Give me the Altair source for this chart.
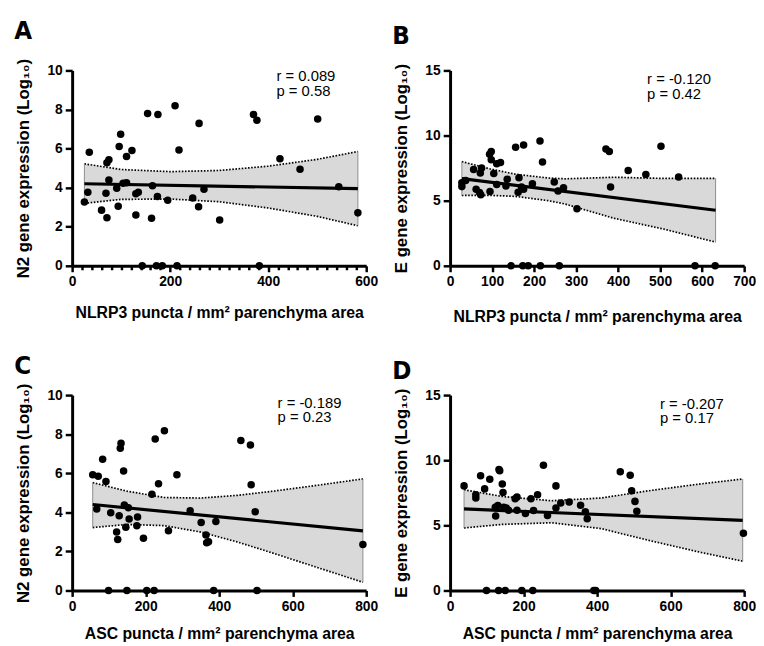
import altair as alt
import pandas as pd

# ---------------- Panel A: N2 vs NLRP3 ----------------
A_x = [25, 32, 35, 60, 69, 71, 71, 75, 75, 91, 94, 96, 99, 104, 111, 111, 122, 130, 135, 130,
       143, 154, 162, 164, 172, 174, 175, 184, 195, 210, 214, 218, 246, 258, 259, 269, 301,
       370, 377, 382, 424, 465, 501, 544, 583]
A_y = [3.27, 3.77, 5.81, 2.85, 3.72, 2.46, 5.28, 5.43, 4.39, 3.97, 3.05, 6.11, 6.73, 4.22, 4.25,
       5.59, 5.90, 3.69, 3.77, 2.60, 0, 7.79, 2.43, 4.10, 0, 3.55, 7.74, 0, 3.35, 8.19, 0, 5.93,
       3.47, 3.02, 7.29, 3.92, 2.35, 7.74, 7.45, 0, 5.48, 4.94, 7.52, 4.05, 2.71]
A_line_x = [25, 583]
A_line_y = [4.20, 3.95]
A_band_x = [25, 100, 200, 300, 400, 500, 583]
A_band_lo = [3.20, 3.40, 3.42, 3.28, 2.96, 2.53, 2.05]
A_band_hi = [5.22, 4.93, 4.82, 4.88, 5.10, 5.45, 5.85]
A_stats = ["r = 0.089", "p = 0.58"]

# ---------------- Panel B: E vs NLRP3 ----------------
B_x = [28, 28, 37, 56, 62, 70, 72, 75, 73, 94, 98, 98, 95, 104, 111, 120, 111, 133, 136, 145,
       156, 162, 164, 170, 173, 175, 186, 196, 175, 214, 215, 220, 248, 257, 260, 270, 302,
       371, 379, 382, 424, 466, 502, 544, 583, 631]
B_y = [6.38, 6.08, 6.55, 7.39, 5.87, 5.62, 7.13, 7.51, 5.45, 8.57, 8.77, 8.14, 5.70, 7.08, 7.84,
       7.94, 6.25, 6.13, 6.65, 0, 9.10, 5.65, 6.76, 6.05, 0, 9.28, 0, 6.30, 5.87, 9.58, 0, 7.97,
       6.43, 5.75, 0, 6.00, 4.39, 8.97, 8.77, 6.05, 7.31, 7.01, 9.18, 6.81, 0, 0]
B_line_x = [28, 632]
B_line_y = [6.69, 4.27]
B_band_x = [28, 94, 156, 234, 273, 390, 507, 632]
B_band_lo = [5.40, 5.41, 5.33, 5.00, 4.75, 3.65, 2.83, 1.82]
B_band_hi = [8.00, 7.45, 7.03, 6.74, 6.68, 6.80, 6.71, 6.72]
B_stats = ["r = -0.120", "p = 0.42"]

# ---------------- Panel C: N2 vs ASC ----------------
C_x = [56, 71, 67, 83, 92, 99, 105, 121, 124, 128, 131, 133, 140, 142, 146, 149, 153, 155, 176,
       178, 194, 203, 217, 223, 226, 235, 251, 262, 285, 321, 351, 364, 366, 371, 391, 385, 459,
       485, 487, 498, 503, 791]
C_y = [5.92, 5.85, 4.17, 6.72, 5.58, 0, 3.98, 2.99, 2.61, 3.82, 7.28, 7.53, 6.12, 4.37, 3.24, 0,
       4.24, 3.66, 3.31, 3.76, 2.67, 0, 4.92, 0, 7.75, 5.46, 8.17, 3.06, 5.92, 4.08, 3.48, 2.84,
       2.44, 2.49, 3.53, 0, 7.68, 7.45, 5.41, 4.03, 0, 2.35]
C_line_x = [56, 791]
C_line_y = [4.40, 3.05]
C_band_x = [56, 150, 250, 350, 450, 550, 650, 791]
C_band_lo = [3.22, 3.38, 3.32, 2.99, 2.48, 1.89, 1.28, 0.42]
C_band_hi = [5.52, 5.08, 4.76, 4.73, 4.87, 5.09, 5.34, 5.71]
C_stats = ["r = -0.189", "p = 0.23"]

# ---------------- Panel D: E vs ASC ----------------
D_x = [38, 70, 70, 83, 94, 99, 108, 123, 124, 130, 133, 135, 132, 142, 144, 146, 150, 153, 159,
       177, 182, 182, 195, 205, 220, 225, 227, 238, 254, 265, 288, 288, 301, 324, 355, 368, 373,
       391, 396, 463, 490, 494, 503, 508, 798]
D_y = [8.03, 7.35, 7.10, 8.81, 7.80, 0, 8.54, 6.39, 5.71, 6.52, 9.29, 9.19, 0, 8.18, 7.53, 6.39,
       0, 6.34, 6.16, 7.05, 7.17, 6.16, 0, 5.91, 7.05, 0, 6.14, 7.35, 9.62, 5.76, 8.03, 6.34, 6.72,
       6.79, 6.54, 6.04, 5.50, 0, 0, 9.12, 8.84, 7.65, 6.84, 6.09, 4.39]
D_line_x = [38, 796]
D_line_y = [6.26, 5.38]
D_band_x = [38, 141, 276, 411, 546, 681, 796]
D_band_lo = [4.80, 5.07, 5.20, 4.75, 3.81, 2.93, 2.25]
D_band_hi = [7.73, 7.22, 6.89, 7.10, 7.68, 8.18, 8.56]
D_stats = ["r = -0.207", "p = 0.17"]

FONT = "Liberation Sans, Arial, Helvetica, sans-serif"
LABEL_FONT = "Liberation Sans Narrow, DejaVu Sans Condensed, Liberation Sans, Arial, sans-serif"
W, H = 298, 198


def panel(label, px, py, lx, ly, bx, blo, bhi, stats, stat_x, stat_y,
          xmax, xvals, major, ymax, yvals, xtitle, ytitle, xtp, toff):
    pts = pd.DataFrame({"x": px, "y": py})
    band = pd.DataFrame({"x": bx, "lo": blo, "hi": bhi})
    ends = band.iloc[[0, len(band) - 1]]
    line = pd.DataFrame({"x": lx, "y": ly})
    ann = pd.DataFrame({"x": [stat_x] * len(stats), "y": stat_y, "t": stats})

    if major is None:
        tsize = 6
        lexpr = "datum.label"
    else:
        tsize = {"condition": {"test": f"datum.value % {major} === 0", "value": 6}, "value": 4}
        lexpr = f"datum.value % {major} === 0 ? datum.label : ''"

    common = dict(domain=True, domainColor="black", domainWidth=3,
                  ticks=True, tickColor="black", tickWidth=2.5, grid=False,
                  labelFont=FONT, labelFontSize=14, labelFontWeight="bold", labelColor="black",
                  titleFont=FONT, titleFontWeight="bold", titleColor="black")
    xaxis = alt.Axis(values=xvals, labelExpr=lexpr, tickSize=tsize, title=xtitle,
                     labelOverlap=False, labelFlush=False, labelBound=False,
                     labelPadding=3, titlePadding=xtp, titleFontSize=16, **common)
    yaxis = alt.Axis(values=yvals, tickSize=7, title=ytitle, labelPadding=3,
                     titlePadding=15, labelOverlap=False, titleFontSize=17, **common)
    xs = alt.Scale(domain=[0, xmax], nice=False, zero=True)
    ys = alt.Scale(domain=[0, ymax], nice=False, zero=True)

    def X(f="x"):
        return alt.X(f + ":Q", scale=xs, axis=xaxis)

    def Y(f):
        return alt.Y(f + ":Q", scale=ys, axis=yaxis)

    area = alt.Chart(band).mark_area(color="#d9d9d9", opacity=1).encode(
        x=X(), y=Y("lo"), y2="hi")
    hi = alt.Chart(band).mark_line(color="black", strokeWidth=1.7, strokeDash=[1.6, 1.6]).encode(
        x=X(), y=Y("hi"))
    lo = alt.Chart(band).mark_line(color="black", strokeWidth=1.7, strokeDash=[1.6, 1.6]).encode(
        x=X(), y=Y("lo"))
    edges = alt.Chart(ends).mark_rule(color="#8c8c8c", strokeWidth=1).encode(
        x=X(), y=Y("lo"), y2="hi")
    reg = alt.Chart(line).mark_line(color="black", strokeWidth=3.2).encode(x=X(), y=Y("y"))
    dots = alt.Chart(pts).mark_circle(size=58, color="black", opacity=1).encode(x=X(), y=Y("y"))
    txt = alt.Chart(ann).mark_text(align="left", baseline="middle", fontSize=15, font=FONT,
                                   color="black").encode(x=X(), y=Y("y"), text="t:N")
    return alt.layer(area, hi, lo, edges, reg, dots, txt).properties(
        width=W, height=H,
        title=alt.TitleParams(label, anchor="start", frame="bounds", fontSize=26,
                              font=LABEL_FONT, fontWeight="bold", offset=toff, color="black"))


ytitle_n2 = "N2 gene expression (Log₁₀)"
ytitle_e = "E gene expression (Log₁₀)"
xt_nlrp3 = "NLRP3 puncta / mm² parenchyma area"
xt_asc = "ASC puncta / mm² parenchyma area"

pA = panel("A", A_x, A_y, A_line_x, A_line_y, A_band_x, A_band_lo, A_band_hi,
           A_stats, 417, [9.7, 8.95], 600, list(range(0, 601, 20)), 200,
           10, [0, 2, 4, 6, 8, 10], xt_nlrp3, ytitle_n2, 16, 15)
pB = panel("B", B_x, B_y, B_line_x, B_line_y, B_band_x, B_band_lo, B_band_hi,
           B_stats, 469, [14.3, 13.2], 700, list(range(0, 701, 100)), None,
           15, [0, 5, 10, 15], xt_nlrp3, ytitle_e, 20, 15)
pC = panel("C", C_x, C_y, C_line_x, C_line_y, C_band_x, C_band_lo, C_band_hi,
           C_stats, 559, [9.58, 8.87], 800, list(range(0, 801, 200)), None,
           10, [0, 2, 4, 6, 8, 10], xt_asc, ytitle_n2, 13, 4)
pD = panel("D", D_x, D_y, D_line_x, D_line_y, D_band_x, D_band_lo, D_band_hi,
           D_stats, 571, [14.34, 13.23], 800, list(range(0, 801, 200)), None,
           15, [0, 5, 10, 15], xt_asc, ytitle_e, 13, 4)

chart = alt.vconcat(
    alt.hconcat(pA, pB, spacing=14),
    alt.hconcat(pC, pD, spacing=14),
    spacing=29,
).properties(
    padding={"left": 6, "top": 5, "right": 0, "bottom": 0}
).configure_view(stroke=None)

chart.save("out.html", embed_options={"renderer": "svg", "actions": False})
